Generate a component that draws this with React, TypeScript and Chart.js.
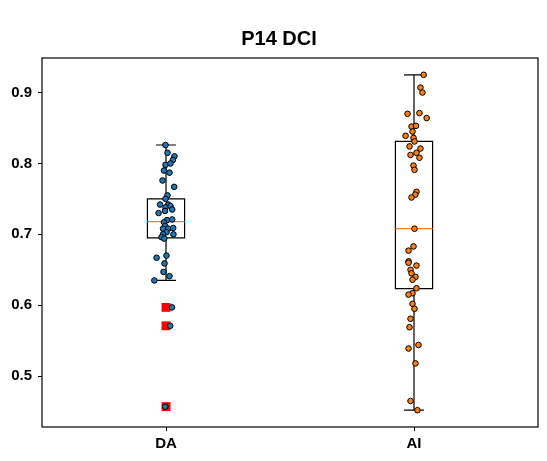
import React, { useEffect, useRef } from "react";
import { Chart, registerables } from "chart.js";

Chart.register(...registerables);

const title = "P14 DCI";
const categories = ["DA", "AI"];
const yTicks = [0.5, 0.6, 0.7, 0.8, 0.9];

const boxQ1 = [0.695, 0.6235];
const boxMedian = [0.718, 0.708];
const boxQ3 = [0.75, 0.831];
const whiskerLow = [0.635, 0.452];
const whiskerHigh = [0.826, 0.925];

const daOutliers = [0.597, 0.571, 0.457];

const daValues = [
  0.826, 0.815, 0.81, 0.805, 0.798, 0.8, 0.79, 0.787, 0.776, 0.767, 0.755, 0.75,
  0.742, 0.742, 0.738, 0.74, 0.735, 0.733, 0.73, 0.72, 0.721, 0.717, 0.712, 0.708,
  0.708, 0.709, 0.703, 0.7, 0.7, 0.696, 0.694, 0.67, 0.667, 0.659, 0.647, 0.641,
  0.635, 0.597, 0.571, 0.457,
];
const daJitter = [
  -0.002, 0.006, 0.034, 0.028, -0.002, 0.018, -0.008, 0.014, -0.014, 0.033, 0.006,
  -0.002, -0.024, 0.009, -0.002, 0.018, 0.025, -0.004, -0.03, 0.004, 0.025, -0.008,
  -0.004, -0.012, 0.009, 0.029, 0.002, -0.012, 0.03, -0.018, -0.007, 0.002, -0.038,
  -0.006, -0.01, 0.014, -0.047, 0.024, 0.017, -0.003,
];

const aiValues = [
  0.925, 0.907, 0.9, 0.87, 0.871, 0.864, 0.852, 0.853, 0.845, 0.839, 0.836, 0.831,
  0.824, 0.821, 0.815, 0.812, 0.808, 0.797, 0.791, 0.76, 0.756, 0.752, 0.708, 0.683,
  0.677, 0.662, 0.656, 0.66, 0.65, 0.645, 0.64, 0.636, 0.624, 0.617, 0.615, 0.602,
  0.595, 0.581, 0.569, 0.544, 0.539, 0.518, 0.465, 0.452,
];
const aiJitter = [
  0.039, 0.026, 0.034, -0.026, 0.022, 0.051, -0.01, 0.008, -0.006, -0.034, -0.002,
  0.002, -0.018, 0.026, 0.01, -0.014, 0.022, -0.002, 0.002, 0.01, 0.005, -0.01,
  0.002, -0.002, -0.022, -0.022, 0.01, -0.022, -0.014, -0.01, 0.006, -0.006, 0.01,
  -0.006, -0.022, -0.006, 0.002, -0.014, -0.018, 0.018, -0.022, 0.006, -0.014, 0.014,
];

const FONT = "'Liberation Sans', Arial, sans-serif";

const boxPlugin = {
  id: "boxes",
  beforeDatasetsDraw(chart: any) {
    const { ctx, scales } = chart;
    const x = scales.x;
    const y = scales.y;
    ctx.save();
    categories.forEach((_, i) => {
      const pos = i + 1;
      const xl = x.getPixelForValue(pos - 0.075);
      const xr = x.getPixelForValue(pos + 0.075);
      const xc = x.getPixelForValue(pos);
      const cl = x.getPixelForValue(pos - 0.04);
      const cr = x.getPixelForValue(pos + 0.04);
      const yq1 = y.getPixelForValue(boxQ1[i]);
      const yq3 = y.getPixelForValue(boxQ3[i]);
      const ym = y.getPixelForValue(boxMedian[i]);
      const ylo = y.getPixelForValue(whiskerLow[i]);
      const yhi = y.getPixelForValue(whiskerHigh[i]);
      ctx.strokeStyle = "#000";
      ctx.lineWidth = 1.2;
      ctx.beginPath();
      ctx.rect(xl, yq3, xr - xl, yq1 - yq3);
      ctx.moveTo(xc, yq3);
      ctx.lineTo(xc, yhi);
      ctx.moveTo(cl, yhi);
      ctx.lineTo(cr, yhi);
      ctx.moveTo(xc, yq1);
      ctx.lineTo(xc, ylo);
      ctx.moveTo(cl, ylo);
      ctx.lineTo(cr, ylo);
      ctx.stroke();
      ctx.strokeStyle = "#ff7f0e";
      ctx.beginPath();
      ctx.moveTo(xl, ym);
      ctx.lineTo(xr, ym);
      ctx.stroke();
    });
    ctx.restore();
  },
  afterDraw(chart: any) {
    const { ctx, chartArea } = chart;
    ctx.save();
    ctx.strokeStyle = "#000";
    ctx.lineWidth = 1.2;
    ctx.strokeRect(
      chartArea.left,
      chartArea.top,
      chartArea.right - chartArea.left,
      chartArea.bottom - chartArea.top
    );
    ctx.fillStyle = "#000";
    ctx.font = `bold 20px ${FONT}`;
    ctx.textAlign = "center";
    ctx.textBaseline = "middle";
    ctx.fillText(title, (chartArea.left + chartArea.right) / 2 - 11, 39);
    ctx.restore();
  },
};

export default function App() {
  const ref = useRef<HTMLCanvasElement>(null);
  useEffect(() => {
    if (!ref.current) return;
    const chart = new Chart(ref.current, {
      type: "scatter",
      data: {
        datasets: [
          {
            label: "outliers",
            data: daOutliers.map((v) => ({ x: 1, y: v })),
            pointStyle: "rect",
            pointRadius: 6.3,
            backgroundColor: "#ff0000",
            borderWidth: 0,
            order: 3,
          },
          {
            label: categories[0],
            data: daValues.map((v, i) => ({ x: 1 + daJitter[i], y: v })),
            pointRadius: 2.8,
            backgroundColor: "#1f77b4",
            borderColor: "#000",
            borderWidth: 1,
            order: 2,
          },
          {
            label: categories[1],
            data: aiValues.map((v, i) => ({ x: 2 + aiJitter[i], y: v })),
            pointRadius: 2.8,
            backgroundColor: "#ff7f0e",
            borderColor: "#000",
            borderWidth: 1,
            order: 1,
          },
        ],
      },
      options: {
        responsive: false,
        animation: false,
        layout: { padding: { top: 58, right: 9, left: 0, bottom: 0 } },
        plugins: { legend: { display: false }, tooltip: { enabled: false } },
        scales: {
          x: {
            type: "linear",
            min: 0.5,
            max: 2.5,
            afterBuildTicks: (s: any) => {
              s.ticks = categories.map((_, i) => ({ value: i + 1 }));
            },
            afterFit: (s: any) => {
              s.height = 34;
            },
            grid: { drawOnChartArea: false, drawTicks: true, tickLength: 4, color: "#000", lineWidth: 1 },
            border: { display: false },
            ticks: {
              color: "#000",
              font: { family: FONT, size: 15, weight: "bold" },
              padding: 4,
              maxRotation: 0,
              callback: (v: any) => categories[Math.round(v) - 1] ?? "",
            },
          },
          y: {
            type: "linear",
            min: 0.4283,
            max: 0.9487,
            afterBuildTicks: (s: any) => {
              s.ticks = yTicks.map((v) => ({ value: v }));
            },
            afterFit: (s: any) => {
              s.width = 42;
            },
            grid: { drawOnChartArea: false, drawTicks: true, tickLength: 4, color: "#000", lineWidth: 1 },
            border: { display: false },
            ticks: {
              color: "#000",
              font: { family: FONT, size: 15, weight: "bold" },
              padding: 6,
              callback: (v: any) => Number(v).toFixed(1),
            },
          },
        },
      },
      plugins: [boxPlugin],
    });
    return () => chart.destroy();
  }, []);
  return (
    <div style={{ position: "absolute", left: 0, top: 0, width: 547, height: 461, background: "#fff" }}>
      <canvas ref={ref} width={547} height={461} />
    </div>
  );
}
